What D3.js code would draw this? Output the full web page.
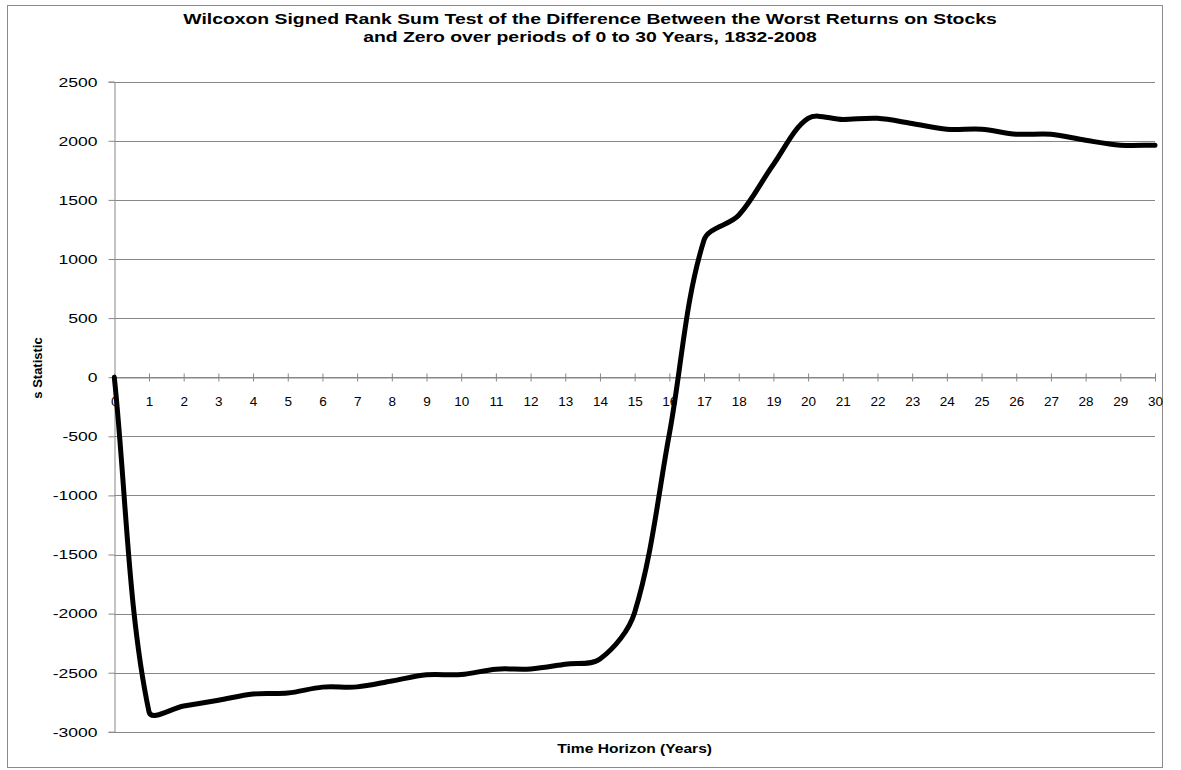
<!DOCTYPE html>
<html>
<head>
<meta charset="utf-8">
<script src="https://cdn.jsdelivr.net/npm/d3@7"></script>
<style>
  html, body { margin: 0; padding: 0; background: #fff; }
  svg { display: block; }
  text { font-family: "Liberation Sans", Arial, sans-serif; fill: #000; }
</style>
</head>
<body>
<svg id="chart" width="1181" height="770"></svg>
<script>
// ---- data ----
const years = [0, 1, 2, 3, 4, 5, 6, 7, 8, 9, 10, 11, 12, 13, 14, 15, 16, 17, 18, 19, 20, 21, 22, 23, 24, 25, 26, 27, 28, 29, 30];
const sStatistic = [0, -2830, -2781, -2733, -2680, -2672, -2622, -2620, -2570, -2518, -2516, -2470, -2468, -2428, -2385, -1990, -480, 1160, 1370, 1800, 2190, 2180, 2190, 2146, 2098, 2098, 2056, 2056, 2005, 1963, 1963];
const yTicks = [2500, 2000, 1500, 1000, 500, 0, -500, -1000, -1500, -2000, -2500, -3000];
const titleLines = ["Wilcoxon Signed Rank Sum Test of the Difference Between the Worst Returns on Stocks",
                    "and Zero over periods of 0 to 30 Years, 1832-2008"];
const xTitle = "Time Horizon (Years)";
const yTitle = "s Statistic";

// ---- spreadsheet-style smoothed curve (chord-weighted Bezier tangents) ----
function SmoothCurve(context) { this._context = context; }
SmoothCurve.prototype = {
  areaStart() { this._line = 0; },
  areaEnd() { this._line = NaN; },
  lineStart() { this._pts = []; },
  point(px, py) { this._pts.push([+px, +py]); },
  lineEnd() {
    const p = this._pts, n = p.length, c = this._context;
    if (!n) return;
    c.moveTo(p[0][0], p[0][1]);
    if (n === 1) return;
    const dist = (a, b) => Math.hypot(b[0] - a[0], b[1] - a[1]);
    const ctrl = (i, dir) => {
      // dir = +1 outgoing control, -1 incoming control
      if (i === 0) return [p[0][0] + (p[1][0] - p[0][0]) / 3, p[0][1] + (p[1][1] - p[0][1]) / 3];
      if (i === n - 1) return [p[i][0] - (p[i][0] - p[i - 1][0]) / 3, p[i][1] - (p[i][1] - p[i - 1][1]) / 3];
      const tx = p[i + 1][0] - p[i - 1][0], ty = p[i + 1][1] - p[i - 1][1];
      const dp = dist(p[i - 1], p[i]), dn = dist(p[i], p[i + 1]);
      const w = (dir > 0 ? dn : dp) / ((dp + dn) || 1) / 3;
      return [p[i][0] + dir * tx * w, p[i][1] + dir * ty * w];
    };
    for (let i = 0; i < n - 1; i++) {
      const a = ctrl(i, 1), b = ctrl(i + 1, -1);
      c.bezierCurveTo(a[0], a[1], b[0], b[1], p[i + 1][0], p[i + 1][1]);
    }
  }
};
const curveSmooth = context => new SmoothCurve(context);

// ---- layout ----
const svg = d3.select("#chart");
const plot = { left: 114.3, right: 1155, top: 81.7, bottom: 731.8 };
const x = d3.scaleLinear().domain([0, 30]).range([plot.left, plot.right]);
const y = d3.scaleLinear().domain([-3000, 2500]).range([plot.bottom, plot.top]);
const gridColor = "#878787";
const stretch = 1.25; // the reference text is horizontally widened

// chart border
svg.append("rect").attr("x", 7.5).attr("y", 5.5).attr("width", 1155).attr("height", 762)
  .attr("fill", "#fff").attr("stroke", "#8a8a8a").attr("stroke-width", 1);

// gridlines
svg.append("g").selectAll("line").data(yTicks).join("line")
  .attr("x1", plot.left).attr("x2", plot.right)
  .attr("y1", d => Math.round(y(d)) + 0.5).attr("y2", d => Math.round(y(d)) + 0.5)
  .attr("stroke", gridColor).attr("stroke-width", 1);

// y axis
const yAxis = d3.axisLeft(y).tickValues(yTicks).tickSize(6).tickPadding(0).tickFormat(d => String(d));
const gy = svg.append("g").attr("transform", `translate(${Math.round(plot.left) + 0.5},0)`).call(yAxis);
gy.select(".domain").attr("stroke", gridColor);
gy.selectAll(".tick line").attr("stroke", gridColor);
gy.selectAll(".tick text")
  .attr("x", null)
  .attr("font-size", 13.5).attr("font-family", "Liberation Sans, Arial, sans-serif").attr("fill", "#000")
  .attr("transform", `translate(-17,0) scale(1.3,1)`);

// x axis at y = 0
const xAxis = d3.axisBottom(x).tickValues(years).tickSize(0).tickPadding(19).tickFormat(d => String(d));
const gx = svg.append("g").attr("transform", `translate(0,${Math.round(y(0)) + 0.5})`).call(xAxis);
gx.select(".domain").attr("stroke", gridColor);
gx.selectAll(".tick text").attr("font-size", 13.5).attr("font-family", "Liberation Sans, Arial, sans-serif").attr("fill", "#000");
gx.selectAll(".tick").append("line").attr("y1", -4).attr("y2", 4).attr("stroke", gridColor);

// line
const line = d3.line()
  .x((d, i) => x(years[i]))
  .y(d => y(d))
  .curve(curveSmooth);
svg.append("path").datum(sStatistic)
  .attr("d", line)
  .attr("fill", "none").attr("stroke", "#000").attr("stroke-width", 5)
  .attr("stroke-linejoin", "round").attr("stroke-linecap", "round");

// title
svg.append("g").selectAll("text").data(titleLines).join("text")
  .attr("transform", (d, i) => `translate(590,${24 + i * 18}) scale(${stretch},1)`)
  .attr("text-anchor", "middle").attr("font-size", 15.5).attr("font-weight", "bold")
  .text(d => d);

// axis titles
svg.append("text")
  .attr("transform", `translate(${(plot.left + plot.right) / 2},753) scale(1.2,1)`)
  .attr("text-anchor", "middle").attr("font-size", 13).attr("font-weight", "bold").text(xTitle);
svg.append("text").attr("transform", "translate(42,368) rotate(-90)")
  .attr("text-anchor", "middle").attr("font-size", 13).attr("font-weight", "bold").text(yTitle);
</script>
</body>
</html>
